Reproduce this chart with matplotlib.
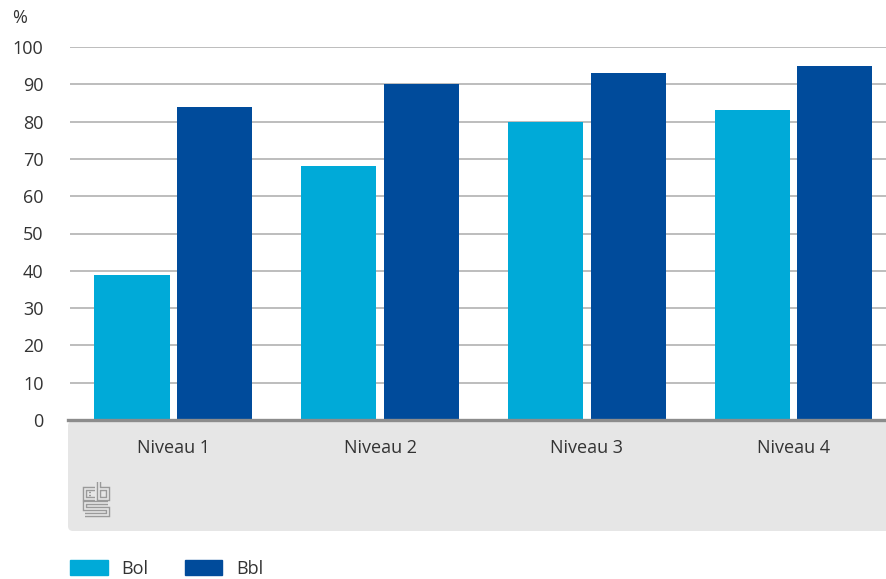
import matplotlib
matplotlib.use("Agg")
import matplotlib.pyplot as plt
from matplotlib.patches import FancyBboxPatch, Patch
from matplotlib.lines import Line2D
import numpy as np

plt.rcParams['font.family'] = ['Open Sans', 'DejaVu Sans']

# Data
categories = ['Niveau 1', 'Niveau 2', 'Niveau 3', 'Niveau 4']
bol = [39, 68, 80, 83]
bbl = [84, 90, 93, 95]
series_names = ['Bol', 'Bbl']
colors = ['#00aad8', '#004b9b']

W, H = 886, 579
fig = plt.figure(figsize=(W / 100, H / 100), dpi=100)

# axes: x 70..886 px, y 420 (0) .. 47 (100)
ax = fig.add_axes([70 / W, (H - 420) / H, (W - 70) / W, (420 - 47) / H])

x = np.arange(len(categories))
off = 0.2
bw = 0.363
ax.bar(x - off, bol, bw, color=colors[0], zorder=3)
ax.bar(x + off, bbl, bw, color=colors[1], zorder=3)

ax.set_xlim(-0.5, 3.448)
ax.set_ylim(0, 100)
ax.set_yticks(range(0, 101, 10))
ax.yaxis.grid(True, color='#ababab', lw=1.1, zorder=0)
for s in ax.spines.values():
    s.set_visible(False)
ax.tick_params(axis='both', length=0, labelsize=13, colors='#333333')
ax.tick_params(axis='y', pad=19)
ax.tick_params(axis='x', pad=14)
ax.set_xticks(x)
ax.set_xticklabels(categories)

# grey band under the axis
band = FancyBboxPatch((68, H - 531), 900, 110, boxstyle='round,pad=0,rounding_size=5',
                      transform=None, facecolor='#e6e6e6', edgecolor='none', zorder=-1)
fig.patches.append(band)
fig.add_artist(Line2D([68, W], [H - 420, H - 420], transform=None, color='#8c8c8c', lw=2.4))

# cbs logo (approximate)
def logo_line(px, py):
    xs = np.array(px)
    ys = H - np.array(py)
    fig.add_artist(Line2D(xs, ys, transform=None, color='#9a9a9a', lw=3.2,
                          solid_joinstyle='miter', solid_capstyle='butt'))
    fig.add_artist(Line2D(xs, ys, transform=None, color='#e6e6e6', lw=1.2,
                          solid_joinstyle='miter', solid_capstyle='butt'))

logo_line([95, 85, 85, 95], [489, 489, 499, 499])
logo_line([89, 91], [494, 494])
logo_line([99, 99, 108, 108, 99], [482, 499, 499, 489, 489])
logo_line([108, 85, 85, 108, 108, 85], [503, 503, 509, 509, 515, 515])

fig.text(12 / W, 1 - 18 / H, '%', fontsize=13, color='#333333', va='center', ha='left')

handles = [Patch(color=c) for c in colors]
fig.legend(handles, series_names, loc='center left', bbox_to_anchor=(70 / W, 10 / H),
           ncol=2, frameon=False, fontsize=13, handlelength=2.1, handleheight=0.9,
           handletextpad=0.75, columnspacing=2.0, borderpad=0, borderaxespad=0,
           labelcolor='#333333')

fig.savefig('out.png', dpi=100)
